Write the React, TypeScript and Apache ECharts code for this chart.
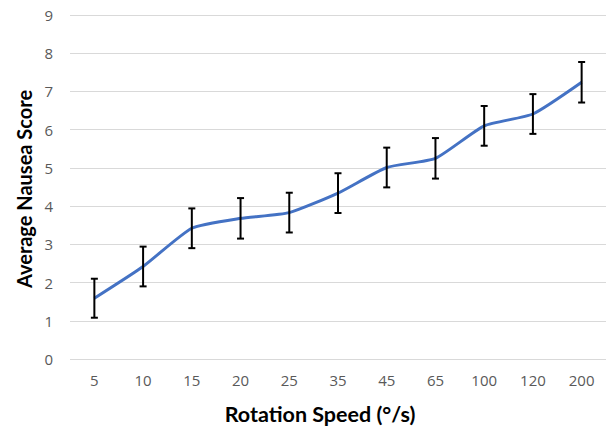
import React, { useEffect, useRef } from "react";
import * as echarts from "echarts";

const categories = ["5", "10", "15", "20", "25", "35", "45", "65", "100", "120", "200"];
const meanScores = [1.59, 2.42, 3.42, 3.68, 3.83, 4.34, 5.01, 5.25, 6.1, 6.41, 7.24];
const errors = [0.51, 0.52, 0.52, 0.53, 0.52, 0.52, 0.52, 0.53, 0.52, 0.52, 0.53];
const yTicks = [0, 1, 2, 3, 4, 5, 6, 7, 8, 9];
const xTitle = "Rotation Speed (°/s)";
const yTitle = "Average Nausea Score";

export default function App() {
  const ref = useRef<HTMLDivElement>(null);
  useEffect(() => {
    document.body.style.margin = "0";
    const chart = echarts.init(ref.current!, null, { renderer: "svg" });
    const errData = categories.map((_, i) => [i, meanScores[i] - errors[i], meanScores[i] + errors[i]]);
    chart.setOption({
      animation: false,
      backgroundColor: "#ffffff",
      grid: { left: 70, right: 1, top: 15, bottom: 69, containLabel: false },
      xAxis: {
        type: "category",
        data: categories,
        boundaryGap: true,
        axisLine: { show: false },
        axisTick: { show: false },
        axisLabel: { color: "#595959", fontSize: 15, fontFamily: "Open Sans", margin: 13 },
      },
      yAxis: {
        type: "value",
        min: yTicks[0],
        max: yTicks[yTicks.length - 1],
        interval: 1,
        axisLine: { show: false },
        axisTick: { show: false },
        axisLabel: { color: "#595959", fontSize: 15, fontFamily: "Open Sans", margin: 17 },
        splitLine: { lineStyle: { color: "#d9d9d9", width: 1 } },
      },
      graphic: [
        {
          type: "text",
          x: 320,
          y: 414,
          style: {
            text: xTitle,
            font: "bold 21.5px Lato",
            fill: "#000000",
            align: "center",
            verticalAlign: "middle",
          },
        },
        {
          type: "text",
          x: 24,
          y: 189,
          rotation: Math.PI / 2,
          style: {
            text: yTitle,
            font: "bold 20px Lato",
            fill: "#000000",
            align: "center",
            verticalAlign: "middle",
          },
        },
      ],
      series: [
        {
          type: "line",
          data: meanScores,
          smooth: 0.18,
          symbol: "none",
          lineStyle: { color: "#4472C4", width: 3 },
          z: 2,
        },
        {
          type: "custom",
          data: errData,
          z: 3,
          renderItem: (params: any, api: any) => {
            const x = api.value(0);
            const lo = api.coord([x, api.value(1)]);
            const hi = api.coord([x, api.value(2)]);
            const cap = 3.5;
            const style = { stroke: "#000000", lineWidth: 2 };
            return {
              type: "group",
              children: [
                { type: "line", shape: { x1: lo[0], y1: lo[1], x2: hi[0], y2: hi[1] }, style },
                { type: "line", shape: { x1: lo[0] - cap, y1: lo[1], x2: lo[0] + cap, y2: lo[1] }, style },
                { type: "line", shape: { x1: hi[0] - cap, y1: hi[1], x2: hi[0] + cap, y2: hi[1] }, style },
              ],
            };
          },
        },
      ],
    });
    return () => chart.dispose();
  }, []);
  return <div ref={ref} style={{ width: 607, height: 428 }} />;
}
